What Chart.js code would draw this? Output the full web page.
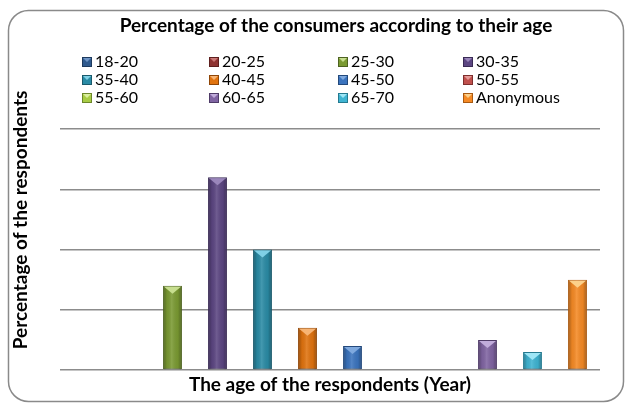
<!DOCTYPE html>
<html>
<head>
<meta charset="utf-8">
<script src="https://cdn.jsdelivr.net/npm/chart.js@4"></script>
<style>
  html, body { margin: 0; padding: 0; background: #ffffff; }
  #wrap { width: 625px; height: 403px; position: relative; }
</style>
</head>
<body>
<div id="wrap"><canvas id="chart" width="625" height="403"></canvas></div>
<script>
// Age groups of the respondents (one series per group)
const ageGroups = ['18-20', '20-25', '25-30', '30-35', '35-40', '40-45',
                   '45-50', '50-55', '55-60', '60-65', '65-70', 'Anonymous'];
// Share of respondents in each group (%)
const shares = [0, 0, 14, 32, 20, 7, 4, 0, 0, 5, 3, 15];
// Value axis range and gridline step (%)
const axisMax = 40;
const axisStep = 10;

const chartTitle = 'Percentage of the consumers according to their age';
const xTitle = 'The age of the respondents (Year)';
const yTitle = 'Percentage of the respondents';

// body, dark edge, light top facet
const palette = [
  ['#2f5a8e', '#1d3a5e', '#6f95c6'],
  ['#8e3331', '#5e1f1e', '#c97775'],
  ['#7a9a32', '#4e6321', '#c7de8f'],
  ['#5c4682', '#3a2b55', '#9a86bb'],
  ['#2a8ba5', '#1a5a6c', '#7fd0e6'],
  ['#e0730f', '#8f4607', '#f7b474'],
  ['#3b74be', '#23497c', '#7fa9de'],
  ['#c0504d', '#7e2f2d', '#e59a98'],
  ['#a8cc45', '#6c872a', '#dbef9e'],
  ['#8064a2', '#4f3b68', '#c1acdb'],
  ['#3fb4d2', '#247a90', '#9ee6f6'],
  ['#f58a25', '#a95a12', '#fcd08a']
];

const datasets = ageGroups.map((name, i) => ({
  label: name,
  data: [shares[i]],
  backgroundColor: palette[i][0],
  borderColor: palette[i][1],
  borderWidth: 1,
  borderSkipped: false,
  categoryPercentage: 1.0,
  barPercentage: 0.42
}));

const FONT = 'Lato, "Open Sans", sans-serif';

// Rounded outer frame
const framePlugin = {
  id: 'frame',
  beforeDraw(chart) {
    const ctx = chart.ctx;
    const x0 = 8.5, y0 = 10.5, x1 = 623.5, y1 = 401.5, r = 20;
    ctx.save();
    ctx.fillStyle = '#ffffff';
    ctx.fillRect(0, 0, chart.width, chart.height);
    ctx.beginPath();
    ctx.moveTo(x0 + r, y0);
    ctx.lineTo(x1 - r, y0);
    ctx.arcTo(x1, y0, x1, y0 + r, r);
    ctx.lineTo(x1, y1 - r);
    ctx.arcTo(x1, y1, x1 - r, y1, r);
    ctx.lineTo(x0 + r, y1);
    ctx.arcTo(x0, y1, x0, y1 - r, r);
    ctx.lineTo(x0, y0 + r);
    ctx.arcTo(x0, y0, x0 + r, y0, r);
    ctx.closePath();
    ctx.strokeStyle = '#8a8a8a';
    ctx.lineWidth = 1.5;
    ctx.stroke();
    ctx.restore();
  }
};

// Bevel shading and light top facet on each bar
const bevelPlugin = {
  id: 'bevel',
  afterDatasetsDraw(chart) {
    const ctx = chart.ctx;
    chart.data.datasets.forEach((ds, di) => {
      const meta = chart.getDatasetMeta(di);
      meta.data.forEach((bar) => {
        const { x, y, base, width } = bar.getProps(['x', 'y', 'base', 'width'], true);
        const h = base - y;
        if (h < 1) return;
        const l = x - width / 2 + 1, r = x + width / 2 - 1;
        ctx.save();
        const g = ctx.createLinearGradient(l, 0, r, 0);
        g.addColorStop(0, 'rgba(0,0,0,0.28)');
        g.addColorStop(0.18, 'rgba(0,0,0,0.05)');
        g.addColorStop(0.45, 'rgba(255,255,255,0.12)');
        g.addColorStop(0.82, 'rgba(0,0,0,0.05)');
        g.addColorStop(1, 'rgba(0,0,0,0.28)');
        ctx.fillStyle = g;
        ctx.fillRect(l, y + 1, r - l, h - 1);
        const th = Math.min(7, h - 1);
        ctx.beginPath();
        ctx.moveTo(l, y + 1);
        ctx.lineTo(r, y + 1);
        ctx.lineTo(x, y + 1 + th);
        ctx.closePath();
        ctx.fillStyle = palette[di][2];
        ctx.fill();
        ctx.restore();
      });
    });
  }
};

// Titles and the four-column legend
const textPlugin = {
  id: 'texts',
  afterDraw(chart) {
    const ctx = chart.ctx;
    const area = chart.chartArea;
    ctx.save();
    ctx.fillStyle = '#000000';
    ctx.textBaseline = 'middle';
    ctx.textAlign = 'center';
    ctx.font = 'bold 19px ' + FONT;
    ctx.fillText(chartTitle, 336, 26);
    ctx.fillText(xTitle, (area.left + area.right) / 2, 385);
    ctx.save();
    ctx.translate(21, 220);
    ctx.rotate(-Math.PI / 2);
    ctx.fillText(yTitle, 0, 0);
    ctx.restore();

    const colX = [82, 209, 338, 463];
    const rowY = [62, 80, 98];
    ctx.textAlign = 'left';
    ctx.font = '16px ' + FONT;
    chart.data.datasets.forEach((ds, i) => {
      const bx = colX[i % 4], cy = rowY[Math.floor(i / 4)];
      const p = palette[i];
      ctx.fillStyle = p[0];
      ctx.fillRect(bx, cy - 5, 10, 10);
      ctx.strokeStyle = p[1];
      ctx.lineWidth = 1;
      ctx.strokeRect(bx + 0.5, cy - 4.5, 9, 9);
      ctx.beginPath();
      ctx.moveTo(bx + 1, cy - 4);
      ctx.lineTo(bx + 9, cy - 4);
      ctx.lineTo(bx + 5, cy);
      ctx.closePath();
      ctx.fillStyle = p[2];
      ctx.fill();
      ctx.fillStyle = '#000000';
      ctx.fillText(ds.label, bx + 13, cy);
    });
    ctx.restore();
  }
};

new Chart(document.getElementById('chart'), {
  type: 'bar',
  data: { labels: [''], datasets: datasets },
  options: {
    responsive: false,
    animation: false,
    layout: { padding: { left: 60, right: 25, top: 129, bottom: 33 } },
    plugins: {
      legend: { display: false },
      title: { display: false },
      tooltip: { enabled: false }
    },
    scales: {
      x: {
        grid: { display: false, drawTicks: false },
        border: { display: false },
        ticks: { display: false }
      },
      y: {
        min: 0,
        max: axisMax,
        ticks: { display: false, stepSize: axisStep },
        grid: { color: '#8c8c8c', lineWidth: 1.5, drawTicks: false },
        border: { display: false }
      }
    }
  },
  plugins: [framePlugin, bevelPlugin, textPlugin]
});
</script>
</body>
</html>
